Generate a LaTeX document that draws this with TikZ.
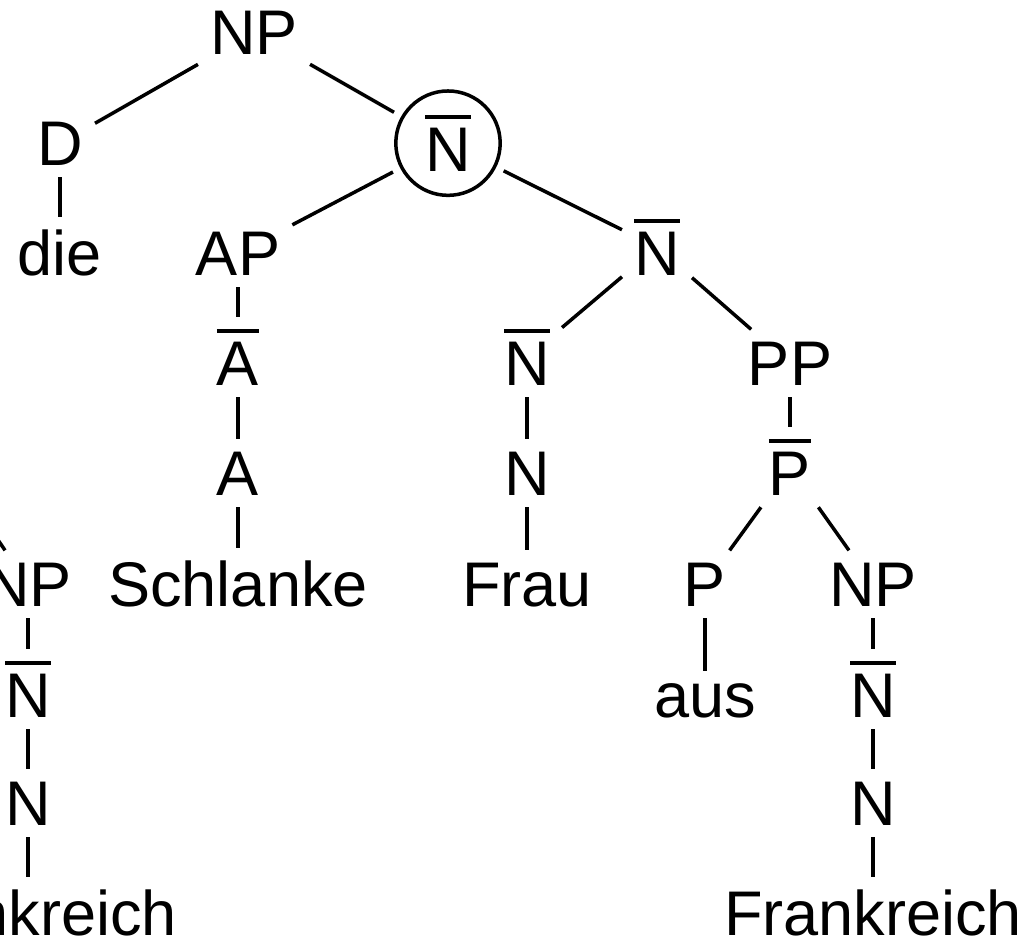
\documentclass[tikz,border=0pt]{standalone}
\usepackage{fontspec}
\setmainfont{Liberation Sans}
\usepackage{tikz}

% bar over a category label
\newcommand\ovl[1]{\setbox0=\hbox{#1}\vbox{\hrule height 0.065em width \wd0 \kern0.13em \box0}}

\begin{document}
\begin{tikzpicture}[x=0.02cm, y=-0.02cm, line width=0.07cm,
  font=\fontsize{35.9pt}{43pt}\selectfont,
  cat/.style={anchor=base, inner sep=0.21cm}]
  \useasboundingbox (0,0) rectangle (1028,941);
  \clip (0,0) rectangle (1028,941);

  \node (NP) [cat] at (254,54) {NP};
  \node (D) [cat] at (60,165) {D};
  \node (die) [cat] at (60,275) {die};
  \node (Nc) [cat, draw, circle, inner sep=0.23cm, outer sep=0.2cm] at (448,171) {\ovl{N}};
  \node (AP) [cat] at (238,275) {AP};
  \node (Nb2) [cat] at (657,275) {\ovl{N}};
  \node (Ab) [cat] at (238,385) {\ovl{A}};
  \node (Nb3) [cat] at (527,385) {\ovl{N}};
  \node (PP) [cat] at (790,385) {PP};
  \node (A) [cat] at (238,495) {A};
  \node (N3) [cat] at (527,495) {N};
  \node (Pb) [cat] at (790,495) {\ovl{P}};
  \node (lNP) [cat] at (28,606) {NP};
  \node (Schlanke) [cat] at (238,606) {Schlanke};
  \node (Frau) [cat] at (527,606) {Frau};
  \node (P) [cat] at (705,606) {P};
  \node (rNP) [cat] at (873,606) {NP};
  \node (lNb) [cat] at (28,717) {\ovl{N}};
  \node (aus) [cat] at (705,717) {aus};
  \node (rNb) [cat] at (873,717) {\ovl{N}};
  \node (lN) [cat] at (28,825) {N};
  \node (rN) [cat] at (873,825) {N};
  \node (lFr) [cat] at (28,935) {Frankreich};
  \node (rFr) [cat] at (873,935) {Frankreich};
  \coordinate (lPb) at (-52,466);

  \draw (NP) -- (D);
  \draw (NP) -- (Nc);
  \draw (D) -- (die);
  \draw (Nc) -- (AP);
  \draw (Nc) -- (Nb2);
  \draw (AP) -- (Ab);
  \draw (Ab) -- (A);
  \draw (A) -- (Schlanke);
  \draw (Nb2) -- (Nb3);
  \draw (Nb2) -- (PP);
  \draw (Nb3) -- (N3);
  \draw (N3) -- (Frau);
  \draw (PP) -- (Pb);
  \draw (Pb) -- (P);
  \draw (Pb) -- (rNP);
  \draw (P) -- (aus);
  \draw (rNP) -- (rNb);
  \draw (rNb) -- (rN);
  \draw (rN) -- (rFr);
  \draw (lPb) -- (lNP);
  \draw (lNP) -- (lNb);
  \draw (lNb) -- (lN);
  \draw (lN) -- (lFr);
\end{tikzpicture}
\end{document}
